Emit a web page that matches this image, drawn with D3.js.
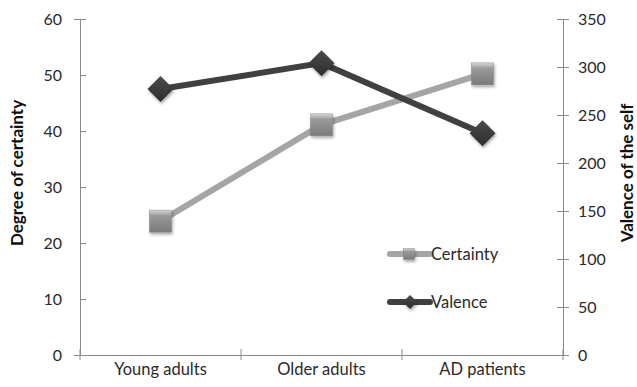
<!DOCTYPE html>
<html><head><meta charset="utf-8">
<script src="https://cdn.jsdelivr.net/npm/d3@7"></script>
<style>body{margin:0;background:#fff}svg{display:block}</style>
</head><body><div id="c"></div>
<script>
const categories = ["Young adults", "Older adults", "AD patients"];
const certainty = [23.9, 41.1, 50.2];
const valence = [277, 304, 231];
const leftTicks = [0, 10, 20, 30, 40, 50, 60];
const rightTicks = [0, 50, 100, 150, 200, 250, 300, 350];

const W = 637, H = 387;
const m = {l: 80, r: 74, t: 19, b: 32};
const font = "Lato, 'Open Sans', sans-serif";
const svg = d3.select("#c").append("svg").attr("width", W).attr("height", H);
const defs = svg.append("defs");
const gs = defs.append("linearGradient").attr("id","gsq").attr("x1",0).attr("y1",0).attr("x2",0).attr("y2",1);
gs.append("stop").attr("offset",0).attr("stop-color","#d8d8d8");
gs.append("stop").attr("offset",0.25).attr("stop-color","#9a9a9a");
gs.append("stop").attr("offset",1).attr("stop-color","#7a7a7a");
const gd = defs.append("linearGradient").attr("id","gdi").attr("x1",0).attr("y1",0).attr("x2",0).attr("y2",1);
gd.append("stop").attr("offset",0).attr("stop-color","#4a4a4a");
gd.append("stop").attr("offset",1).attr("stop-color","#2e2e2e");
const f = defs.append("filter").attr("id","sh").attr("x","-50%").attr("y","-50%").attr("width","200%").attr("height","200%");
f.append("feDropShadow").attr("dx",1).attr("dy",2).attr("stdDeviation",1.5).attr("flood-color","#000").attr("flood-opacity",0.35);

const x = d3.scaleBand().domain(categories).range([m.l, W - m.r]);
const yL = d3.scaleLinear().domain([0, 60]).range([H - m.b, m.t]);
const yR = d3.scaleLinear().domain([0, 350]).range([H - m.b, m.t]);
const cx = d => x(d) + x.bandwidth() / 2;

// axes
const axisColor = "#8a8a8a";
const gL = svg.append("g").attr("transform", `translate(${m.l},0)`)
  .call(d3.axisLeft(yL).tickValues(leftTicks).tickSize(6).tickPadding(12));
gL.selectAll(".tick line").attr("x2", 6);
const gR = svg.append("g").attr("transform", `translate(${W - m.r},0)`)
  .call(d3.axisRight(yR).tickValues(rightTicks).tickSize(6).tickPadding(9));
gR.selectAll(".tick line").attr("x1", -6);
const gX = svg.append("g").attr("transform", `translate(0,${H - m.b})`)
  .call(d3.axisBottom(x).tickSize(0).tickPadding(8));
const bounds = [m.l].concat(categories.map(c => x(c) + x.bandwidth()));
gX.selectAll(".bt").data(bounds).enter().append("line")
  .attr("x1", d => d).attr("x2", d => d).attr("y1", -6).attr("y2", 5)
  .attr("stroke", axisColor);
[gL, gR, gX].forEach(g => {
  g.select(".domain").attr("stroke", axisColor);
  g.selectAll(".tick line").attr("stroke", axisColor);
  g.selectAll("text").attr("font-family", font).attr("font-size", 16).attr("fill", "#2a2a2a");
});
gX.selectAll("text").attr("font-size", 16.5);

// axis titles
svg.append("text").attr("transform", `translate(23,${(m.t + H - m.b)/2 - 14}) rotate(-90)`)
  .attr("text-anchor","middle").attr("font-family", font).attr("font-weight","bold")
  .attr("font-size", 17).attr("fill","#111").text("Degree of certainty");
svg.append("text").attr("transform", `translate(633,${(m.t + H - m.b)/2 - 14}) rotate(-90)`)
  .attr("text-anchor","middle").attr("font-family", font).attr("font-weight","bold")
  .attr("font-size", 17).attr("fill","#111").text("Valence of the self");

// lines
const lineC = d3.line().x((d,i) => cx(categories[i])).y(d => yL(d));
const lineV = d3.line().x((d,i) => cx(categories[i])).y(d => yR(d));
svg.append("path").attr("d", lineC(certainty)).attr("fill","none").attr("stroke","#a5a5a5").attr("stroke-width",6);
svg.append("path").attr("d", lineV(valence)).attr("fill","none").attr("stroke","#404040").attr("stroke-width",6);

function square(g, px, py, s) {
  g.append("rect").attr("x", px - s/2).attr("y", py - s/2).attr("width", s).attr("height", s)
    .attr("fill","url(#gsq)").attr("stroke","#8a8a8a").attr("stroke-width",0.5).attr("filter","url(#sh)");
}
function diamond(g, px, py, s) {
  g.append("path").attr("d", `M${px},${py - s/2}L${px + s/2},${py}L${px},${py + s/2}L${px - s/2},${py}Z`)
    .attr("fill","url(#gdi)").attr("filter","url(#sh)");
}
certainty.forEach((v,i) => square(svg, cx(categories[i]), yL(v), 22));
valence.forEach((v,i) => diamond(svg, cx(categories[i]), yR(v), 26));

// legend
const lg = svg.append("g");
const items = [{name:"Certainty", color:"#a5a5a5", y:254, mk:"s"}, {name:"Valence", color:"#404040", y:302, mk:"d"}];
items.forEach(it => {
  lg.append("line").attr("x1",390).attr("x2",430).attr("y1",it.y).attr("y2",it.y)
    .attr("stroke", it.color).attr("stroke-width",6).attr("stroke-linecap","round");
  if (it.mk === "s") square(lg, 409, it.y, 11); else diamond(lg, 410, it.y, 14);
  lg.append("text").attr("x",431).attr("y",it.y).attr("dy","0.35em")
    .attr("font-family", font).attr("font-size",16.5).attr("fill","#2a2a2a").text(it.name);
});
</script></body></html>
